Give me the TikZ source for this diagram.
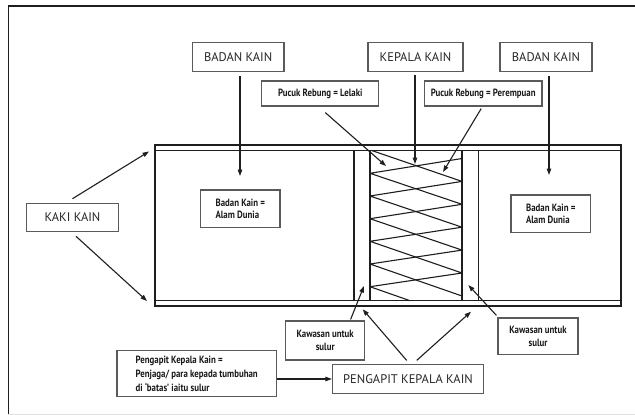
\documentclass[tikz,border=0pt]{standalone}
\usepackage{fontspec}
\setmainfont{PT Sans}
\newfontfamily\condf[FakeStretch=0.84, UprightFont=* Bold]{PT Sans}
\usetikzlibrary{arrows.meta}
\definecolor{ink}{HTML}{1E1E1E}
\definecolor{boxgray}{HTML}{5A5A5A}
\begin{document}
\begin{tikzpicture}[x=1pt,y=-1pt,
  lab/.style={draw=boxgray, line width=1.2pt, inner sep=0pt, text=black!85,
    font=\fontsize{12.5}{15}\selectfont},
  small/.style={draw=boxgray, line width=1.2pt, inner sep=0pt, text=black!90,
    font=\condf\fontsize{10.5}{12.3}\selectfont},
  arr/.style={-{Triangle[length=6.5pt,width=4.5pt]}, line width=1.1pt, draw=ink},
  cloth/.style={line width=1.4pt, draw=ink},
  zz/.style={line width=1.1pt, draw=ink, line join=round}]
\useasboundingbox (0,0) rectangle (635,415);
% frame
\draw[ink, line width=1.3pt] (8.3,415) -- (8.3,6) -- (635,6);
\draw[black!12, line width=0.8pt] (8.3,414) -- (635,414);

% cloth
\draw[cloth] (155,145) rectangle (621,306);
\draw[cloth] (155,150.5) -- (621,150.5);
\draw[cloth] (155,300.7) -- (621,300.7);
\foreach \xx in {354,370,462,478.5}
  \draw[cloth] (\xx,150.5) -- (\xx,300.7);

% zigzag in kepala kain
\draw[zz] (371.7,150.5) -- (462,181.4) -- (370,196) -- (462,227.2) -- (370,241.3)
  -- (462,273) -- (370,286.7) -- (410,300.7);
\draw[zz] (462,158.5) -- (370,173.3) -- (462,204.3) -- (370,218.7) -- (462,250.1)
  -- (370,264) -- (462,296);

% label boxes
\node[lab, minimum width=91.7pt, minimum height=29.4pt] (badanL) at (238.2,57) {BADAN KAIN};
\node[lab, minimum width=95pt, minimum height=29.4pt] (kepala) at (415.5,57) {KEPALA KAIN};
\node[lab, minimum width=92pt, minimum height=29.4pt] (badanR) at (546,57) {BADAN KAIN};
\node[small, minimum width=117pt, minimum height=25pt] (lelaki) at (320.3,93.5) {Pucuk Rebung = Lelaki};
\node[small, minimum width=117.5pt, minimum height=25pt] (perempuan) at (483.2,93.5) {Pucuk Rebung = Perempuan};
\node[small, align=left, minimum width=79.3pt, minimum height=37.3pt] (alamL) at (240.3,208.7) {Badan Kain =\\Alam Dunia};
\node[small, align=left, minimum width=79.6pt, minimum height=37.3pt] (alamR) at (550.8,213.7) {Badan Kain =\\Alam Dunia};
\node[lab, minimum width=92.3pt, minimum height=28.4pt] (kaki) at (72.5,217.5) {KAKI KAIN};
\node[small, align=center, minimum width=78.8pt, minimum height=39pt,
  font=\condf\fontsize{10.5}{13.3}\selectfont] (kawL) at (325.2,340.5) {Kawasan untuk\\sulur};
\node[small, align=center, minimum width=80pt, minimum height=36.5pt,
  font=\condf\fontsize{10.5}{13.3}\selectfont] (kawR) at (538,336.2) {Kawasan untuk\\sulur};
\node[small, align=left, minimum width=159.4pt, minimum height=45.8pt,
  font=\condf\fontsize{10.5}{14.2}\selectfont] (penjaga) at (196.7,373.6)
  {Pengapit Kepala Kain =\\Penjaga/ para kepada tumbuhan\\di ‘batas’ iaitu sulur};
\node[lab, minimum width=151pt, minimum height=29pt] (pengapit) at (408,379) {PENGAPIT KEPALA KAIN};

% arrow tips
\coordinate (tBL) at (240,176);
\coordinate (tKP) at (415,164);
\coordinate (tBR) at (549,175);
\coordinate (tLk) at (386,166);
\coordinate (tPr) at (443,172);
\coordinate (tK1) at (149,151.5);
\coordinate (tK2) at (147,301);
\coordinate (tP1) at (362.7,309.3);
\coordinate (tP2) at (471,311.7);
\coordinate (tW1) at (364,286);
\coordinate (tW2) at (468.3,285);

% connectors
\draw[arr] ([yshift=-3.5pt]tBL |- badanL.south) -- (tBL);
\draw[arr] ([yshift=-2.5pt]tKP |- kepala.south) -- (tKP);
\draw[arr] ([yshift=-3.5pt]tBR |- badanR.south) -- (tBR);
\draw[arr] ([xshift=5pt,yshift=-6pt]lelaki.south) -- (tLk);
\draw[arr] ([xshift=-2pt,yshift=-2pt]perempuan.south) -- (tPr);
\draw[arr] ([yshift=4pt]kaki.north) -- (tK1);
\draw[arr] ([xshift=3.5pt,yshift=-4pt]kaki.south) -- (tK2);
\draw[arr] ([xshift=-1.3pt,yshift=3.5pt]pengapit.north) -- (tP1);
\draw[arr] ([xshift=8.7pt,yshift=3.5pt]pengapit.north) -- (tP2);
\draw[arr] ([xshift=-14.6pt,yshift=1pt]kawL.north east) -- (tW1);
\draw[arr] ([xshift=-1pt,yshift=2pt]kawR.north west) -- (tW2);
\draw[arr] (pengapit.west -| penjaga.east) -- (pengapit.west);
\end{tikzpicture}
\end{document}
